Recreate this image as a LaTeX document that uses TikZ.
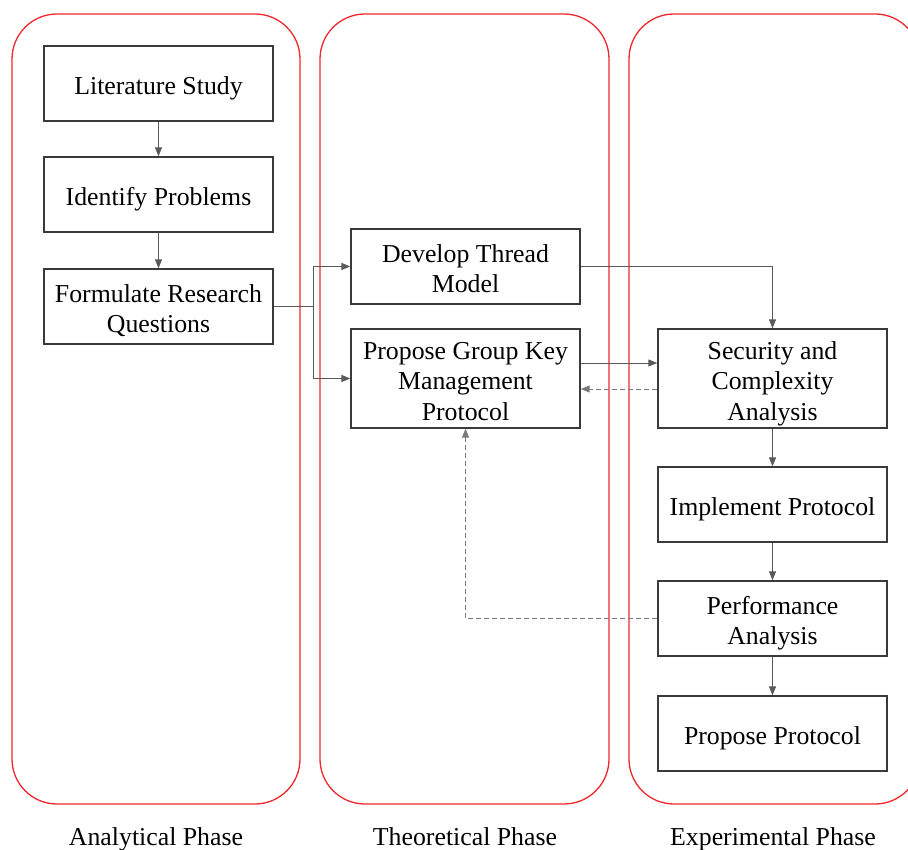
\documentclass[tikz,border=0pt]{standalone}
\usepackage{fontspec}
\setmainfont{Liberation Serif}
\usetikzlibrary{arrows.meta}
\definecolor{phasered}{HTML}{F0282D}
\definecolor{boxline}{HTML}{3A3A3A}
\definecolor{conn}{HTML}{5A5A5A}
% box text as a centred one-column tabular of zero height and depth,
% lowered a little, so boxes of one, two or three lines centre alike
\newcommand{\boxlines}[1]{\raisebox{-11.3pt}[0pt][0pt]{\begin{tabular}{@{}c@{}}#1\end{tabular}}}
\tikzset{
  phase/.style={draw=phasered, line width=1.3pt, rounded corners=45pt},
  stepbox/.style={draw=boxline, line width=1.3pt, minimum width=229pt, minimum height=75pt,
    inner sep=0pt, font=\fontsize{25.8}{30.5}\selectfont},
  tallbox/.style={stepbox, minimum height=99pt},
  flow/.style={draw=conn, line width=0.9pt, -{Triangle[length=9pt,width=7pt]}},
  link/.style={draw=conn, line width=0.9pt},
  back/.style={draw=conn!80, line width=0.9pt, dash pattern=on 5pt off 3pt, -{Triangle[length=9pt,width=7pt]}},
  phasename/.style={font=\fontsize{25.8}{30}\selectfont, anchor=base, inner sep=0pt}
}
\begin{document}
\begin{tikzpicture}[x=1pt,y=-1pt]
\useasboundingbox (0,0) rectangle (908,850);
\clip (0,0) rectangle (908,850);

% three phase panels
\draw[phase] (12,14) rectangle (300,804);
\draw[phase] (320,14) rectangle (609,804);
\draw[phase] (629,14) rectangle (920,804);

% analytical phase
\node[stepbox] (lit) at (158.5,83.5) {\boxlines{Literature Study}};
\node[stepbox] (idp) at (158.5,194.5) {\boxlines{Identify Problems}};
\node[stepbox] (frq) at (158.5,306.5) {\boxlines{Formulate Research\\Questions}};

% theoretical phase
\node[stepbox] (dev) at (465.5,266.5) {\boxlines{Develop Thread\\Model}};
\node[tallbox] (pgk) at (465.5,378.5) {\boxlines{Propose Group Key\\Management\\Protocol}};

% experimental phase
\node[tallbox] (sca) at (772.5,378.5) {\boxlines{Security and\\Complexity\\Analysis}};
\node[stepbox] (imp) at (772.5,504.5) {\boxlines{Implement Protocol}};
\node[stepbox] (per) at (772.5,618.5) {\boxlines{Performance\\Analysis}};
\node[stepbox] (ppr) at (772.5,733.5) {\boxlines{Propose Protocol}};

% phase names
\node[phasename] (an) at (156,845) {Analytical Phase};
\node[phasename] (th) at (465,845) {Theoretical Phase};
\node[phasename] (ex) at (773,845) {Experimental Phase};

% connectors
\coordinate (fork) at (313,306.5);
\draw[flow] (lit) -- (idp);
\draw[flow] (idp) -- (frq);
\draw[link] (frq.east) -- (fork);
\draw[flow] (fork) |- (dev.west);
\draw[flow] (fork) |- (pgk.west);
\draw[flow] (dev.east) -| (sca.north);
\draw[flow] ([yshift=15.5pt]pgk.east) -- ([yshift=15.5pt]sca.west);
\draw[back] ([yshift=-10.5pt]sca.west) -- ([yshift=-10.5pt]pgk.east);
\draw[flow] (sca) -- (imp);
\draw[flow] (imp) -- (per);
\draw[flow] (per) -- (ppr);
\draw[back] (per.west) -| (pgk.south);
\end{tikzpicture}
\end{document}
